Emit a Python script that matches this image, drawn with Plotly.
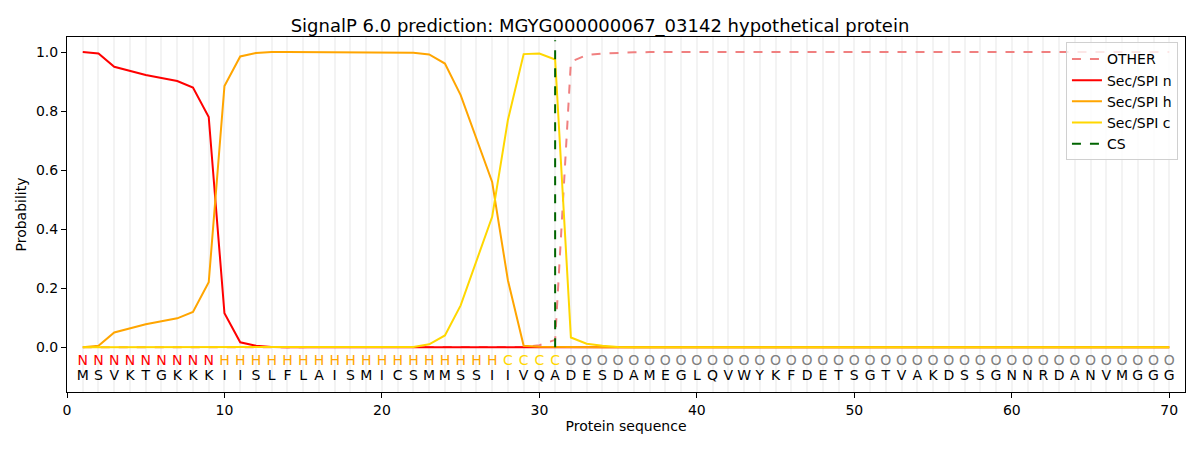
import plotly.graph_objects as go

title = "SignalP 6.0 prediction: MGYG000000067_03142 hypothetical protein"

residues = list("MSVKTGKKKIISLFLAISMICSMMSSIIVQADESDAMEGLQVWYKFDETSGTVAKDSSGNNRDANVMGGG")
labels = list("NNNNNNNNN" + "HHHHHHHHHHHHHHHHHH" + "CCCC" + "O" * 39)
positions = list(range(1, 71))

other = [0.0, 0.0, 0.0, 0.0, 0.0, 0.0, 0.0, 0.0, 0.0, 0.0,
         0.0, 0.0, 0.0, 0.0, 0.0, 0.0, 0.0, 0.0, 0.0, 0.0,
         0.0, 0.0, 0.0, 0.0, 0.0, 0.0, 0.0, 0.0, 0.001, 0.007,
         0.025, 0.967, 0.99, 0.995, 0.998, 0.999, 1.0, 1.0, 1.0, 1.0,
         1.0, 1.0, 1.0, 1.0, 1.0, 1.0, 1.0, 1.0, 1.0, 1.0,
         1.0, 1.0, 1.0, 1.0, 1.0, 1.0, 1.0, 1.0, 1.0, 1.0,
         1.0, 1.0, 1.0, 1.0, 1.0, 1.0, 1.0, 1.0, 1.0, 1.0]

sec_n = [1.0, 0.995, 0.95, 0.935, 0.922, 0.912, 0.902, 0.88, 0.78, 0.115,
         0.017, 0.005, 0.001, 0.0, 0.0, 0.0, 0.0, 0.0, 0.0, 0.0,
         0.0, 0.0, 0.0, 0.0, 0.0, 0.0, 0.0, 0.0, 0.0, 0.0,
         0.0, 0.0, 0.0, 0.0, 0.0, 0.0, 0.0, 0.0, 0.0, 0.0,
         0.0, 0.0, 0.0, 0.0, 0.0, 0.0, 0.0, 0.0, 0.0, 0.0,
         0.0, 0.0, 0.0, 0.0, 0.0, 0.0, 0.0, 0.0, 0.0, 0.0,
         0.0, 0.0, 0.0, 0.0, 0.0, 0.0, 0.0, 0.0, 0.0, 0.0]

sec_h = [0.0, 0.005, 0.05, 0.065, 0.078, 0.088, 0.098, 0.12, 0.22, 0.885,
         0.985, 0.997, 1.0, 1.0, 1.0, 1.0, 1.0, 1.0, 1.0, 1.0,
         1.0, 0.998, 0.992, 0.961, 0.854, 0.707, 0.56, 0.227, 0.005, 0.002,
         0.001, 0.0, 0.0, 0.0, 0.0, 0.0, 0.0, 0.0, 0.0, 0.0,
         0.0, 0.0, 0.0, 0.0, 0.0, 0.0, 0.0, 0.0, 0.0, 0.0,
         0.0, 0.0, 0.0, 0.0, 0.0, 0.0, 0.0, 0.0, 0.0, 0.0,
         0.0, 0.0, 0.0, 0.0, 0.0, 0.0, 0.0, 0.0, 0.0, 0.0]

sec_c = [0.0, 0.0, 0.0, 0.0, 0.0, 0.0, 0.0, 0.0, 0.0, 0.0,
         0.0, 0.0, 0.0, 0.0, 0.0, 0.0, 0.0, 0.0, 0.0, 0.0,
         0.0, 0.001, 0.01, 0.04, 0.142, 0.29, 0.442, 0.77, 0.993, 0.995,
         0.975, 0.033, 0.012, 0.005, 0.001, 0.0, 0.0, 0.0, 0.0, 0.0,
         0.0, 0.0, 0.0, 0.0, 0.0, 0.0, 0.0, 0.0, 0.0, 0.0,
         0.0, 0.0, 0.0, 0.0, 0.0, 0.0, 0.0, 0.0, 0.0, 0.0,
         0.0, 0.0, 0.0, 0.0, 0.0, 0.0, 0.0, 0.0, 0.0, 0.0]

cs_position = 31
cs_top = 1.04

x_ticks = [0, 10, 20, 30, 40, 50, 60, 70]
y_ticks = [0.0, 0.2, 0.4, 0.6, 0.8, 1.0]

label_colors = {"N": "#ff0000", "H": "#ffa500", "C": "#ffd700", "O": "#808080"}
FONT = "DejaVu Sans"

fig = go.Figure()

fig.add_trace(go.Scatter(x=positions, y=other, mode="lines", name="OTHER",
                         line=dict(color="#f08080", width=2, dash="dash")))
fig.add_trace(go.Scatter(x=positions, y=sec_n, mode="lines", name="Sec/SPI n",
                         line=dict(color="#ff0000", width=2)))
fig.add_trace(go.Scatter(x=positions, y=sec_h, mode="lines", name="Sec/SPI h",
                         line=dict(color="#ffa500", width=2)))
fig.add_trace(go.Scatter(x=positions, y=sec_c, mode="lines", name="Sec/SPI c",
                         line=dict(color="#ffd700", width=2)))
fig.add_trace(go.Scatter(x=[cs_position, cs_position], y=[0, cs_top], mode="lines", name="CS",
                         line=dict(color="#006400", width=2, dash="dash")))

# region labels row
fig.add_trace(go.Scatter(x=positions, y=[-0.047] * len(positions), mode="text",
                         text=labels, showlegend=False, hoverinfo="skip",
                         textfont=dict(family=FONT, size=14,
                                       color=[label_colors[l] for l in labels])))
# residues row
fig.add_trace(go.Scatter(x=positions, y=[-0.098] * len(positions), mode="text",
                         text=residues, showlegend=False, hoverinfo="skip",
                         textfont=dict(family=FONT, size=14, color="#000000")))

fig.update_layout(
    width=1184, height=434,
    margin=dict(l=59, r=7, t=29, b=50, autoexpand=False),
    paper_bgcolor="white", plot_bgcolor="white",
    font=dict(family=FONT, size=14, color="#000000"),
    title=dict(text=title, x=0.5, xanchor="center", y=0.96, yanchor="middle",
               font=dict(family=FONT, size=18, color="#000000"), automargin=False),
    legend=dict(x=0.9937, xanchor="right", y=0.985, yanchor="top",
                bgcolor="rgba(255,255,255,0.8)", bordercolor="#d0d0d0", borderwidth=1,
                font=dict(family=FONT, size=14), tracegroupgap=0),
    showlegend=True,
)

fig.update_xaxes(
    range=[0, 71], tickvals=x_ticks, ticktext=[str(t) for t in x_ticks],
    showline=True, linecolor="black", linewidth=1, mirror=True,
    ticks="outside", ticklen=5, tickcolor="black",
    showgrid=True, gridcolor="#f3f3f3", gridwidth=1.5,
    minor=dict(dtick=1, tick0=0, showgrid=True, gridcolor="#f3f3f3", gridwidth=1.5, ticks=""),
    zeroline=False, automargin=False,
    title=dict(text="Protein sequence", font=dict(family=FONT, size=14), standoff=4),
)
fig.update_yaxes(
    range=[-0.1515, 1.051], tickvals=y_ticks, ticktext=[f"{t:.1f}" for t in y_ticks],
    showline=True, linecolor="black", linewidth=1, mirror=True,
    ticks="outside", ticklen=5, tickcolor="black",
    showgrid=False, zeroline=False, automargin=False,
    title=dict(text="Probability", font=dict(family=FONT, size=14), standoff=6),
)

fig.write_html("out.html")
